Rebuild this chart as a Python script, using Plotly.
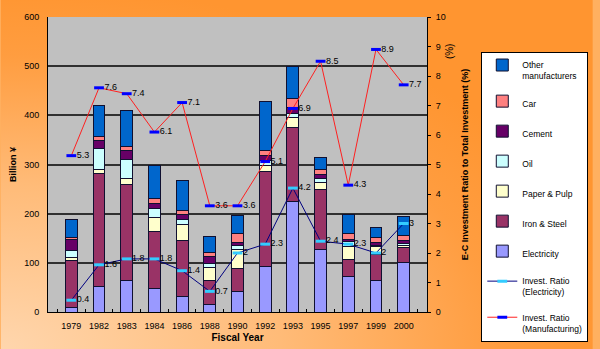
import base64
import plotly.graph_objects as go

# Fiscal years on the category axis
years = ["1979", "1982", "1983", "1984", "1986", "1988", "1990",
         "1992", "1993", "1995", "1997", "1999", "2000"]

# Environmental-conservation investment by industry (billion yen)
electricity = [10, 51, 65, 48, 31, 16, 41, 92, 224, 127, 72, 64, 100]
iron_steel = [94, 231, 195, 116, 115, 48, 48, 193, 151, 123, 34, 53, 31]
paper_pulp = [7, 7, 12, 28, 31, 27, 38, 12, 21, 13, 27, 16, 5]
oil = [15, 44, 39, 19, 12, 7, 8, 12, 8, 9, 10, 3, 3]
cement = [22, 15, 17, 10, 10, 14, 6, 9, 12, 8, 5, 5, 7]
car = [3, 8, 8, 10, 7, 9, 18, 10, 18, 9, 11, 11, 9]
other_manu = [37, 63, 73, 67, 61, 32, 38, 101, 66, 25, 40, 19, 40]

# Share of E-C investment in total investment (%)
ratio_electricity = [0.4, 1.6, 1.8, 1.8, 1.4, 0.7, 2, 2.3, 4.2, 2.4, 2.3, 2, 3]
ratio_manufacturing = [5.3, 7.6, 7.4, 6.1, 7.1, 3.6, 3.6, 5.1, 6.9, 8.5, 4.3, 8.9, 7.7]

FONT = "Liberation Sans, Arial, sans-serif"

bar_series = [
    ("Electricity", electricity, "#9999ff", 7),
    ("Iron & Steel", iron_steel, "#993366", 6),
    ("Paper & Pulp", paper_pulp, "#ffffcc", 5),
    ("Oil", oil, "#ccffff", 4),
    ("Cement", cement, "#660066", 3),
    ("Car", car, "#ff8080", 2),
    ("Other<br>manufacturers", other_manu, "#0066cc", 1),
]

fig = go.Figure()

for name, vals, color, rank in bar_series:
    fig.add_trace(go.Bar(
        x=years, y=vals, name=name,
        marker=dict(color=color, line=dict(color="#101030", width=1)),
        legendgroup=name, legendrank=rank,
    ))

fig.add_trace(go.Scatter(
    x=years, y=ratio_electricity, yaxis="y2",
    name="Invest. Ratio<br>(Electricity)",
    mode="lines+markers+text",
    line=dict(color="#000080", width=1),
    marker=dict(symbol="line-ew", size=7, line=dict(width=3, color="#33ccff")),
    text=[f"{v:g}" for v in ratio_electricity],
    textposition="middle right",
    textfont=dict(family=FONT, size=9, color="#000000"),
    cliponaxis=False,
    legendgroup="re", legendrank=8,
))

fig.add_trace(go.Scatter(
    x=years, y=ratio_manufacturing, yaxis="y2",
    name="Invest. Ratio<br>(Manufacturing)",
    mode="lines+markers+text",
    line=dict(color="#ff2020", width=1),
    marker=dict(symbol="line-ew", size=7, line=dict(width=3, color="#0000ff")),
    text=[f"{v:g}" for v in ratio_manufacturing],
    textposition="middle right",
    textfont=dict(family=FONT, size=9, color="#000000"),
    cliponaxis=False,
    legendgroup="rm", legendrank=9,
))

# Orange backdrop, lighter toward the lower left
svg = (
    '<svg xmlns="http://www.w3.org/2000/svg" width="600" height="349">'
    '<defs><radialGradient id="g" cx="0" cy="1" r="1.05">'
    '<stop offset="0" stop-color="#ffd6ad"/>'
    '<stop offset="0.45" stop-color="#ffbb78"/>'
    '<stop offset="0.8" stop-color="#ff9d40"/>'
    '<stop offset="1" stop-color="#ff9530"/>'
    '</radialGradient></defs>'
    '<rect width="600" height="349" fill="url(#g)"/></svg>'
)
bg_uri = "data:image/svg+xml;base64," + base64.b64encode(svg.encode()).decode()

L, R, T, B = 48, 168, 17, 37
pw, ph = 600 - L - R, 349 - T - B

fig.update_layout(
    width=600, height=349,
    margin=dict(l=L, r=R, t=T, b=B),
    barmode="stack", bargap=0.57,
    paper_bgcolor="#ffb060",
    plot_bgcolor="rgba(0,0,0,0)",
    font=dict(family=FONT, size=9, color="#000000"),
    showlegend=True,
    legend=dict(
        x=(487 - L) / pw, y=(312 - 52) / ph, xanchor="left", yanchor="top",
        bgcolor="#ffffff", bordercolor="#000000", borderwidth=1,
        font=dict(family=FONT, size=8.5, color="#000000"),
        tracegroupgap=11, valign="top", itemwidth=30,
    ),
    images=[dict(
        source=bg_uri, xref="paper", yref="paper",
        x=-L / pw, y=1 + T / ph, sizex=600 / pw, sizey=349 / ph,
        xanchor="left", yanchor="top", sizing="stretch", layer="below",
    )],
    shapes=[dict(
        type="rect", xref="paper", yref="paper", x0=0, x1=1, y0=0, y1=1,
        fillcolor="#c0c0c0", line=dict(width=0), layer="below",
    )],
    xaxis=dict(
        type="category", tickangle=0, ticklabelstandoff=5, automargin=False,
        title=dict(text="<b>Fiscal Year</b>", font=dict(size=10), standoff=4),
        showline=True, linecolor="#000000", linewidth=1,
        ticks="inside", ticklen=3, tickcolor="#000000", tickson="boundaries",
        tickfont=dict(size=9), showgrid=False,
    ),
    yaxis=dict(
        range=[0, 600], dtick=100, ticklabelstandoff=6, automargin=False,
        title=dict(text="<b>Billion ¥</b>", font=dict(size=9), standoff=6),
        showline=True, linecolor="#000000", linewidth=1,
        showgrid=True, gridcolor="#303030", gridwidth=1.5,
        zeroline=False, tickfont=dict(size=9),
    ),
    yaxis2=dict(
        overlaying="y", side="right", range=[0, 10], dtick=1,
        ticklabelstandoff=3, automargin=False,
        title=dict(text="<b>E-C Investment Ratio to Total Investment (%)</b>",
                   font=dict(size=9), standoff=16),
        showline=True, linecolor="#000000", linewidth=1,
        ticks="outside", ticklen=3, tickcolor="#000000",
        showgrid=False, zeroline=False, tickfont=dict(size=9),
    ),
    annotations=[dict(
        text="(%)", xref="paper", yref="paper",
        x=(462 - L) / pw, y=(312 - 41) / ph, showarrow=False,
        textangle=-90, font=dict(size=10, color="#000000"),
    )],
)

fig.write_html("out.html")
